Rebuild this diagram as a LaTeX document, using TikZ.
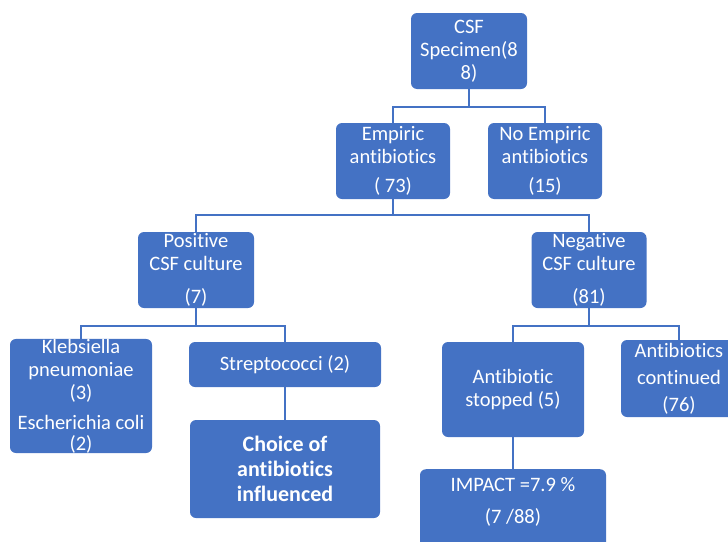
\documentclass[tikz,border=0pt]{standalone}
\usepackage{fontspec}
\setmainfont{Carlito}[Ligatures=NoCommon]
\definecolor{boxblue}{HTML}{4472C4}
\definecolor{lineblue}{HTML}{4472C4}
\begin{document}
\begin{tikzpicture}[x=1pt,y=-1pt,
        box/.style={fill=boxblue, rounded corners=6pt, text=white, align=center, inner sep=0pt,
            font=\fontsize{20.5}{23}\selectfont},
        link/.style={draw=lineblue, line width=1.5pt}]
    \useasboundingbox (0,0) rectangle (728,541);
    \clip (0,0) rectangle (728,541);
        % top levels
        \node[box, minimum width=116, minimum height=76] (csf) at (469,51) {CSF\\Specimen(8\\8)};
        \node[box, minimum width=114, minimum height=76] (emp) at (393,161) {Empiric\\antibiotics\\[6pt]( 73)};
        \node[box, minimum width=114, minimum height=76] (noemp) at (545,161) {No Empiric\\antibiotics\\[6pt](15)};
        \node[box, minimum width=116, minimum height=76] (pos) at (196,270) {Positive\\CSF culture\\[10pt](7)};
        \node[box, minimum width=115, minimum height=76] (neg) at (589,270) {Negative\\CSF culture\\[10pt](81)};
        % bottom levels
        \node[box, minimum width=142, minimum height=111] (kleb) at (81,396) {Klebsiella\\pneumoniae\\(3)\\[7pt]Escherichia coli\\[-2pt](2)};
        \node[box, minimum width=192, minimum height=45] (strep) at (285,364.5) {Streptococci (2)};
        \node[box, minimum width=190, minimum height=98, font=\fontsize{22}{25}\selectfont\bfseries] (choice) at (285,469) {Choice of\\antibiotics\\influenced};
        \node[box, minimum width=142, minimum height=95] (stop) at (513,389.5) {Antibiotic\\stopped (5)};
        \node[box, minimum width=116, minimum height=77] (cont) at (679,378.5) {Antibiotics\\[4pt]continued\\[4pt](76)};
        \node[box, minimum width=186, inner ysep=8pt, text depth=60pt, anchor=north] (impact) at (513,469) {IMPACT =7.9 \%\\[9pt](7 /88)};
        % connectors
        \draw[link] (csf.south) -- ++(0,18) -| (emp.north);
        \draw[link] (csf.south) -- ++(0,18) -| (noemp.north);
        \draw[link] (emp.south) -- ++(0,16) -| (pos.north);
        \draw[link] (emp.south) -- ++(0,16) -| (neg.north);
        \draw[link] (pos.south) -- ++(0,18) -| (kleb.north);
        \draw[link] (pos.south) -- ++(0,18) -| (strep.north);
        \draw[link] (neg.south) -- ++(0,18) -| (stop.north);
        \draw[link] (neg.south) -- ++(0,18) -| (cont.north);
        \draw[link] (strep) -- (choice);
        \draw[link] (stop) -- (impact);
    \end{tikzpicture}
\end{document}
